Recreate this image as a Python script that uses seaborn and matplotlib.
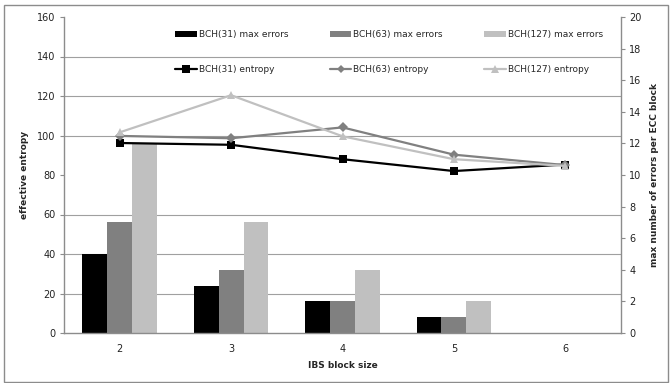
import numpy as np
import pandas as pd
import seaborn as sns
import matplotlib.pyplot as plt
from matplotlib.patches import Patch, Rectangle
from matplotlib.lines import Line2D

block_size = ['2', '3', '4', '5', '6']
codes = ['BCH(31)', 'BCH(63)', 'BCH(127)']

# max errors per ECC block (right axis)
err_31 = [5, 3, 2, 1, 0]
err_63 = [7, 4, 2, 1, 0]
err_127 = [12, 7, 4, 2, 0]

# effective entropy (left axis)
ent_31 = [96.2, 95.3, 88.0, 82.0, 85.3]
ent_63 = [99.8, 98.6, 104.1, 90.3, 85.0]
ent_127 = [101.6, 120.4, 99.6, 88.0, 84.6]

colors = ['#000000', '#808080', '#c0c0c0']
grid_col = '#a0a0a0'
spine_col = '#8c8c8c'

bars = pd.DataFrame({
    'size': block_size * 3,
    'code': [c for c in codes for _ in block_size],
    'errors': err_31 + err_63 + err_127,
})
lines = pd.DataFrame({
    'size': block_size * 3,
    'code': [c for c in codes for _ in block_size],
    'entropy': ent_31 + ent_63 + ent_127,
})

sns.set_style('white')
plt.rcParams['font.family'] = ['DejaVu Sans']
plt.rcParams['font.size'] = 6.5

fig = plt.figure(figsize=(6.7, 3.83), dpi=100)
ax = fig.add_axes([64 / 670, 1 - 333 / 383, 557 / 670, 316 / 383])
ax2 = ax.twinx()

# bars on the bottom axes (secondary scale, shown on the right)
sns.barplot(data=bars, x='size', y='errors', hue='code', palette=colors,
            width=0.67, linewidth=0, saturation=1, legend=False, ax=ax, zorder=2)
ax.set_ylim(0, 20)
ax.set_yticks(np.arange(0, 21, 2))
ax.set_yticks(np.arange(2.5, 20, 2.5), minor=True)
ax.yaxis.grid(True, which='minor', color=grid_col, linewidth=0.8, zorder=0)
ax.set_axisbelow(True)
ax.yaxis.tick_right()
ax.yaxis.set_label_position('right')
ax.set_ylabel('max number of errors per ECC block', fontweight='bold', labelpad=6)
ax.tick_params(axis='y', which='major', direction='out', length=3, color=spine_col,
               labelsize=7, labelcolor='#222222', pad=3)
ax.tick_params(axis='y', which='minor', length=0)

# entropy lines on the twin axes (primary scale, shown on the left)
sns.pointplot(data=lines, x='size', y='entropy', hue='code', palette=colors,
              markers=['s', 'D', '^'], linestyles='-', linewidth=1.6,
              markersize=5.5, markeredgewidth=0, legend=False, ax=ax2)
ax2.set_ylim(0, 160)
ax2.set_yticks(np.arange(0, 161, 20))
ax2.yaxis.tick_left()
ax2.yaxis.set_label_position('left')
ax2.set_ylabel('effective entropy', fontweight='bold', labelpad=6)
ax2.tick_params(axis='y', direction='out', length=3, color=spine_col,
                labelsize=7, labelcolor='#222222', pad=3)
ax.set_zorder(1)
ax2.set_zorder(2)
ax2.patch.set_visible(False)
for s in ax2.spines.values():
    s.set_visible(False)

ax.set_xlim(-0.5, 4.5)
ax.set_xticks(range(5))
ax.set_xticklabels(block_size)
ax.set_xticks(np.arange(-0.5, 5, 1), minor=True)
ax.tick_params(axis='x', which='major', length=0, labelsize=7,
               labelcolor='#222222', pad=8)
ax.tick_params(axis='x', which='minor', direction='out', length=4, color=spine_col)
ax.set_xlabel('IBS block size', fontweight='bold', labelpad=5)

for side in ['left', 'right', 'bottom']:
    ax.spines[side].set_visible(True)
    ax.spines[side].set_color(spine_col)
    ax.spines[side].set_linewidth(1)
ax.spines['top'].set_visible(False)

handles = []
labels = []
markers = ['s', 'D', '^']
sizes = [5.5, 4.5, 6]
for c, col, m, ms in zip(codes, colors, markers, sizes):
    handles.append(Patch(facecolor=col, edgecolor='none'))
    labels.append(c + ' max errors')
    handles.append(Line2D([], [], color=col, marker=m, markersize=ms,
                          markeredgewidth=0, linewidth=1.6))
    labels.append(c + ' entropy')
ax2.legend(handles, labels, ncol=3, frameon=False, loc='upper left',
           bbox_to_anchor=(0.185, 0.985), handlelength=2.4, handleheight=0.6,
           handletextpad=0.2, columnspacing=4.6, labelspacing=2.9, fontsize=6.5)

fig.add_artist(Rectangle((4 / 670, 1 - 382 / 383), 664 / 670, 377 / 383,
                         transform=fig.transFigure, fill=False,
                         edgecolor=spine_col, linewidth=1))

fig.savefig('out.png', dpi=100)
